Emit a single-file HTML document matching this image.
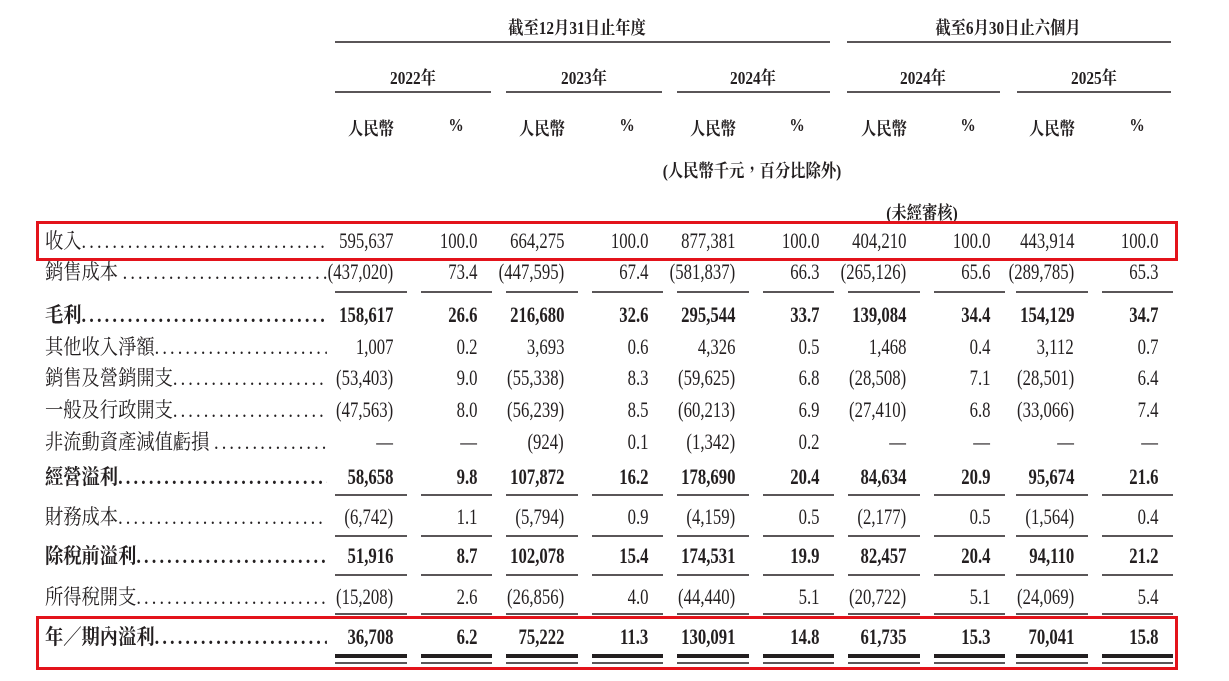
<!DOCTYPE html>
<html><head><meta charset="utf-8"><style>
html,body{margin:0;padding:0;background:#fff;}
body{width:1229px;height:681px;position:relative;overflow:hidden;color:#231f20;font-family:"Liberation Serif","Noto Serif CJK TC","Noto Serif CJK SC",serif;}
.r{position:absolute;height:26px;line-height:26px;left:0;width:1229px;font-size:22px;}
.r span{position:absolute;top:0;white-space:nowrap;transform:scaleX(0.76);transform-origin:right center;}
.b span,.b .lb{font-weight:bold;}
.lb{position:absolute;left:45px;top:0;width:324px;overflow:hidden;white-space:nowrap;transform:scaleX(0.87);transform-origin:left center;font-size:21px;}
.lb i{font-style:normal;letter-spacing:3.6px;font-family:"Liberation Serif",serif;}
.a1{right:836px}.a2{right:665px}.a3{right:494px}.a4{right:323px}.a5{right:155px}
.p1{right:752px}.p2{right:581px}.p3{right:410px}.p4{right:239px}.p5{right:71px}
.h{position:absolute;font-weight:bold;font-size:18px;white-space:nowrap;transform:translateX(-50%) scaleX(0.85);}
.box{position:absolute;border:3px solid #e3131b;box-sizing:border-box;}
</style></head><body>
<svg width="1229" height="681" style="position:absolute;left:0;top:0">
<defs><path id="seg" d="M335 0h72M421 0h71M506 0h72M592 0h71M677 0h72M763 0h71M848 0h72M934 0h71M1016 0h72M1102 0h71" stroke="#231f20" stroke-width="1.6"/>
<path id="segT" d="M335 0h72M421 0h71M506 0h72M592 0h71M677 0h72M763 0h71M848 0h72M934 0h71M1016 0h72M1102 0h71" stroke="#231f20" stroke-width="4"/></defs>
<path d="M335 42H830M847 42H1171M335 92H491M506 92H662M677 92H830M847 92H1000M1017 92H1171" stroke="#231f20" stroke-width="1.6"/>
<use href="#seg" y="292"/><use href="#seg" y="495"/><use href="#seg" y="536"/><use href="#seg" y="575"/><use href="#seg" y="614"/>
<use href="#segT" y="656"/><use href="#seg" y="663"/>
</svg>
<div class="h" style="left:577px;top:14px">截至12月31日止年度</div>
<div class="h" style="left:1008px;top:14px">截至6月30日止六個月</div>
<div class="h" style="left:413px;top:64px">2022年</div>
<div class="h" style="left:584px;top:64px">2023年</div>
<div class="h" style="left:753px;top:64px">2024年</div>
<div class="h" style="left:923px;top:64px">2024年</div>
<div class="h" style="left:1094px;top:64px">2025年</div>
<div class="h" style="left:371px;top:115px">人民幣</div><div class="h" style="left:456px;top:115px">%</div>
<div class="h" style="left:542px;top:115px">人民幣</div><div class="h" style="left:627px;top:115px">%</div>
<div class="h" style="left:713px;top:115px">人民幣</div><div class="h" style="left:797px;top:115px">%</div>
<div class="h" style="left:884px;top:115px">人民幣</div><div class="h" style="left:968px;top:115px">%</div>
<div class="h" style="left:1052px;top:115px">人民幣</div><div class="h" style="left:1137px;top:115px">%</div>
<div class="h" style="left:752px;top:157px">(人民幣千元，百分比除外)</div>
<div class="h" style="left:922px;top:199px">(未經審核)</div>

<div class="r" style="top:228px"><div class="lb">收入<i>..............................................................</i></div><span class="a1">595,637</span><span class="p1">100.0</span><span class="a2">664,275</span><span class="p2">100.0</span><span class="a3">877,381</span><span class="p3">100.0</span><span class="a4">404,210</span><span class="p4">100.0</span><span class="a5">443,914</span><span class="p5">100.0</span></div>
<div class="r" style="top:259px"><div class="lb">銷售成本 <i>..............................................................</i></div><span class="a1">(437,020)</span><span class="p1">73.4</span><span class="a2">(447,595)</span><span class="p2">67.4</span><span class="a3">(581,837)</span><span class="p3">66.3</span><span class="a4">(265,126)</span><span class="p4">65.6</span><span class="a5">(289,785)</span><span class="p5">65.3</span></div>
<div class="r b" style="top:302px"><div class="lb">毛利<i>..............................................................</i></div><span class="a1">158,617</span><span class="p1">26.6</span><span class="a2">216,680</span><span class="p2">32.6</span><span class="a3">295,544</span><span class="p3">33.7</span><span class="a4">139,084</span><span class="p4">34.4</span><span class="a5">154,129</span><span class="p5">34.7</span></div>
<div class="r" style="top:334px"><div class="lb">其他收入淨額<i>..............................................................</i></div><span class="a1">1,007</span><span class="p1">0.2</span><span class="a2">3,693</span><span class="p2">0.6</span><span class="a3">4,326</span><span class="p3">0.5</span><span class="a4">1,468</span><span class="p4">0.4</span><span class="a5">3,112</span><span class="p5">0.7</span></div>
<div class="r" style="top:365px"><div class="lb">銷售及營銷開支<i>..............................................................</i></div><span class="a1">(53,403)</span><span class="p1">9.0</span><span class="a2">(55,338)</span><span class="p2">8.3</span><span class="a3">(59,625)</span><span class="p3">6.8</span><span class="a4">(28,508)</span><span class="p4">7.1</span><span class="a5">(28,501)</span><span class="p5">6.4</span></div>
<div class="r" style="top:397px"><div class="lb">一般及行政開支<i>..............................................................</i></div><span class="a1">(47,563)</span><span class="p1">8.0</span><span class="a2">(56,239)</span><span class="p2">8.5</span><span class="a3">(60,213)</span><span class="p3">6.9</span><span class="a4">(27,410)</span><span class="p4">6.8</span><span class="a5">(33,066)</span><span class="p5">7.4</span></div>
<div class="r" style="top:429px"><div class="lb">非流動資產減值虧損 <i>..............................................................</i></div><span class="a1">—</span><span class="p1">—</span><span class="a2">(924)</span><span class="p2">0.1</span><span class="a3">(1,342)</span><span class="p3">0.2</span><span class="a4">—</span><span class="p4">—</span><span class="a5">—</span><span class="p5">—</span></div>
<div class="r b" style="top:464px"><div class="lb">經營溢利<i>..............................................................</i></div><span class="a1">58,658</span><span class="p1">9.8</span><span class="a2">107,872</span><span class="p2">16.2</span><span class="a3">178,690</span><span class="p3">20.4</span><span class="a4">84,634</span><span class="p4">20.9</span><span class="a5">95,674</span><span class="p5">21.6</span></div>
<div class="r" style="top:504px"><div class="lb">財務成本<i>..............................................................</i></div><span class="a1">(6,742)</span><span class="p1">1.1</span><span class="a2">(5,794)</span><span class="p2">0.9</span><span class="a3">(4,159)</span><span class="p3">0.5</span><span class="a4">(2,177)</span><span class="p4">0.5</span><span class="a5">(1,564)</span><span class="p5">0.4</span></div>
<div class="r b" style="top:543px"><div class="lb">除稅前溢利<i>..............................................................</i></div><span class="a1">51,916</span><span class="p1">8.7</span><span class="a2">102,078</span><span class="p2">15.4</span><span class="a3">174,531</span><span class="p3">19.9</span><span class="a4">82,457</span><span class="p4">20.4</span><span class="a5">94,110</span><span class="p5">21.2</span></div>
<div class="r" style="top:584px"><div class="lb">所得稅開支<i>..............................................................</i></div><span class="a1">(15,208)</span><span class="p1">2.6</span><span class="a2">(26,856)</span><span class="p2">4.0</span><span class="a3">(44,440)</span><span class="p3">5.1</span><span class="a4">(20,722)</span><span class="p4">5.1</span><span class="a5">(24,069)</span><span class="p5">5.4</span></div>
<div class="r b" style="top:624px"><div class="lb">年／期內溢利<i>..............................................................</i></div><span class="a1">36,708</span><span class="p1">6.2</span><span class="a2">75,222</span><span class="p2">11.3</span><span class="a3">130,091</span><span class="p3">14.8</span><span class="a4">61,735</span><span class="p4">15.3</span><span class="a5">70,041</span><span class="p5">15.8</span></div>

<div class="box" style="left:36px;top:221px;width:1142px;height:40px"></div>
<div class="box" style="left:36px;top:616px;width:1142px;height:54px"></div>
</body></html>
